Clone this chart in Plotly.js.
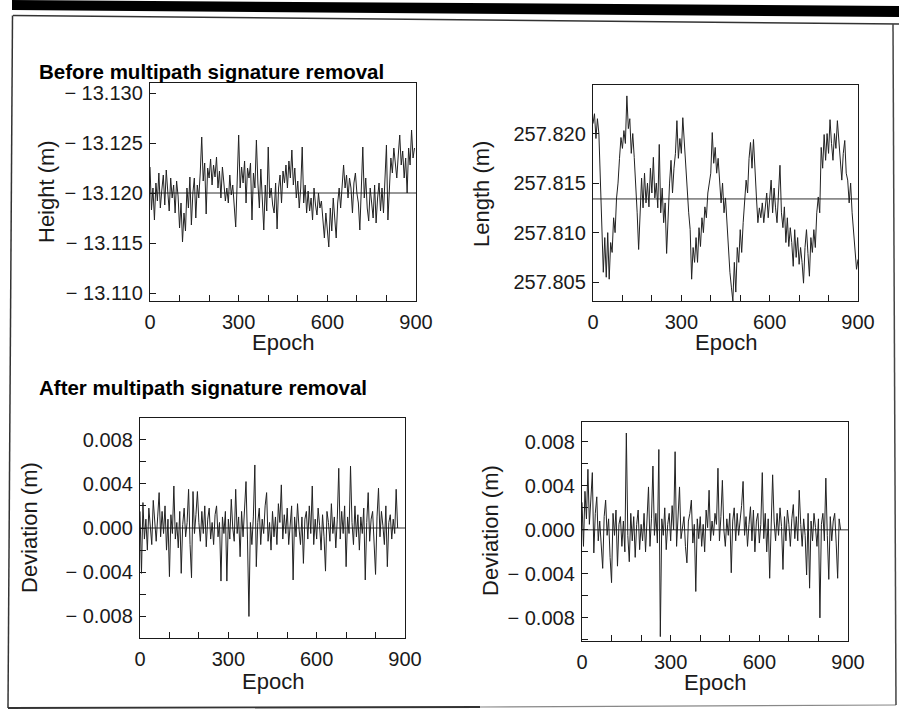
<!DOCTYPE html>
<html>
<head>
<meta charset="utf-8">
<script src="https://cdn.plot.ly/plotly-3.0.1.min.js"></script>
<style>
  html, body { margin: 0; padding: 0; background: #fff; }
  #chart { width: 899px; height: 711px; }
</style>
</head>
<body>
<div id="chart"></div>
<script>
// ---------------- DATA ----------------
const EPOCH_STEP = 5;                 // sampling step of the series below (epochs)
const epochTickVals = [0, 300, 600, 900];
const epochTickText = ["0", "300", "600", "900"];

// Top-left: height before multipath removal (m), epochs 0..895
const heightValues = [
-13.1226,-13.1183,-13.1205,-13.1173,-13.1210,-13.1192,-13.1220,-13.1185,-13.1203,-13.1218,
-13.1188,-13.1223,-13.1202,-13.1182,-13.1215,-13.1195,-13.1208,-13.1180,-13.1212,-13.1197,
-13.1165,-13.1190,-13.1151,-13.1180,-13.1162,-13.1205,-13.1185,-13.1216,-13.1168,-13.1200,
-13.1215,-13.1175,-13.1208,-13.1195,-13.1220,-13.1256,-13.1212,-13.1230,-13.1179,-13.1225,
-13.1215,-13.1234,-13.1208,-13.1228,-13.1216,-13.1236,-13.1205,-13.1222,-13.1195,-13.1226,
-13.1210,-13.1192,-13.1205,-13.1190,-13.1218,-13.1198,-13.1208,-13.1188,-13.1166,-13.1212,
-13.1258,-13.1205,-13.1226,-13.1210,-13.1232,-13.1190,-13.1225,-13.1215,-13.1230,-13.1173,
-13.1220,-13.1205,-13.1253,-13.1210,-13.1185,-13.1224,-13.1195,-13.1163,-13.1208,-13.1182,
-13.1246,-13.1195,-13.1205,-13.1188,-13.1180,-13.1210,-13.1164,-13.1205,-13.1218,-13.1190,
-13.1222,-13.1210,-13.1228,-13.1205,-13.1232,-13.1215,-13.1243,-13.1208,-13.1225,-13.1195,
-13.1212,-13.1185,-13.1205,-13.1246,-13.1190,-13.1208,-13.1180,-13.1202,-13.1182,-13.1195,
-13.1173,-13.1205,-13.1188,-13.1178,-13.1200,-13.1185,-13.1192,-13.1170,-13.1155,-13.1180,
-13.1165,-13.1146,-13.1185,-13.1162,-13.1195,-13.1175,-13.1155,-13.1190,-13.1205,-13.1185,
-13.1212,-13.1228,-13.1205,-13.1218,-13.1195,-13.1215,-13.1205,-13.1180,-13.1210,-13.1220,
-13.1200,-13.1190,-13.1163,-13.1210,-13.1246,-13.1195,-13.1215,-13.1185,-13.1172,-13.1205,
-13.1185,-13.1175,-13.1208,-13.1170,-13.1195,-13.1210,-13.1182,-13.1205,-13.1180,-13.1215,
-13.1248,-13.1173,-13.1213,-13.1235,-13.1220,-13.1245,-13.1230,-13.1215,-13.1238,-13.1258,
-13.1228,-13.1242,-13.1215,-13.1235,-13.1200,-13.1245,-13.1228,-13.1263,-13.1235,-13.1245
];
const heightMean = -13.1200;
const heightTickVals = [-13.130, -13.125, -13.120, -13.115, -13.110];
const heightTickText = ["\u2212 13.130", "\u2212 13.125", "\u2212 13.120", "\u2212 13.115", "\u2212 13.110"];

// Top-right: baseline length before multipath removal (m), epochs 0..900
const lengthValues = [
257.8210,257.8220,257.8195,257.8215,257.8200,257.8150,257.8110,257.8060,257.8095,257.8055,
257.8100,257.8053,257.8090,257.8080,257.8115,257.8100,257.8135,257.8150,257.8175,257.8196,
257.8185,257.8203,257.8190,257.8238,257.8205,257.8215,257.8180,257.8200,257.8176,257.8150,
257.8120,257.8083,257.8130,257.8155,257.8125,257.8160,257.8130,257.8150,257.8126,257.8165,
257.8140,257.8176,257.8135,257.8150,257.8125,257.8189,257.8120,257.8145,257.8110,257.8130,
257.8079,257.8125,257.8150,257.8173,257.8140,257.8165,257.8180,257.8213,257.8175,257.8195,
257.8180,257.8216,257.8190,257.8170,257.8145,257.8120,257.8103,257.8053,257.8085,257.8070,
257.8095,257.8070,257.8105,257.8086,257.8115,257.8100,257.8126,257.8115,257.8140,257.8153,
257.8160,257.8201,257.8170,257.8186,257.8160,257.8175,257.8155,257.8130,257.8150,257.8120,
257.8135,257.8105,257.8080,257.8060,257.8045,257.8031,257.8070,257.8040,257.8085,257.8070,
257.8103,257.8080,257.8110,257.8136,257.8153,257.8140,257.8175,257.8191,257.8165,257.8194,
257.8160,257.8136,257.8110,257.8125,257.8115,257.8130,257.8110,257.8125,257.8140,257.8115,
257.8135,257.8153,257.8120,257.8145,257.8125,257.8110,257.8140,257.8168,257.8120,257.8105,
257.8126,257.8090,257.8115,257.8086,257.8105,257.8090,257.8066,257.8103,257.8075,257.8095,
257.8068,257.8085,257.8070,257.8049,257.8085,257.8103,257.8079,257.8056,257.8095,257.8080,
257.8103,257.8085,257.8120,257.8136,257.8120,257.8186,257.8165,257.8199,257.8173,257.8200,
257.8180,257.8214,257.8190,257.8173,257.8200,257.8185,257.8213,257.8190,257.8170,257.8153,
257.8180,257.8193,257.8160,257.8153,257.8130,257.8150,257.8120,257.8103,257.8080,257.8063,257.8073
];
const lengthMean = 257.8134;
const lengthTickVals = [257.805, 257.810, 257.815, 257.820];
const lengthTickText = ["257.805", "257.810", "257.815", "257.820"];

// Bottom-left: height deviation after removal (m), epochs 0..875
const heightDeviation = [
0.0015,-0.0041,0.0023,-0.0010,0.0008,-0.0020,0.0018,0.0002,-0.0015,0.0025,
0.0005,-0.0012,0.0010,0.0032,-0.0008,0.0015,-0.0005,0.0020,-0.0020,0.0008,
-0.0044,0.0012,-0.0005,0.0038,-0.0010,0.0005,-0.0018,0.0015,-0.0041,0.0003,
0.0018,-0.0008,0.0005,0.0035,-0.0015,-0.0045,0.0033,-0.0005,0.0012,0.0033,
0.0005,-0.0012,0.0015,-0.0005,0.0020,-0.0017,0.0008,0.0018,-0.0010,0.0005,
-0.0015,0.0012,0.0020,-0.0008,0.0005,-0.0048,0.0010,-0.0005,0.0015,-0.0048,
0.0008,-0.0010,0.0026,0.0000,-0.0012,0.0035,-0.0005,0.0010,-0.0026,0.0015,
-0.0008,0.0020,0.0042,-0.0010,-0.0080,0.0005,-0.0015,0.0010,0.0057,-0.0035,
0.0005,0.0018,-0.0015,0.0008,-0.0005,0.0020,0.0032,-0.0012,0.0005,-0.0020,
0.0015,-0.0008,0.0010,-0.0015,0.0022,0.0005,0.0039,-0.0010,0.0012,-0.0005,
0.0018,-0.0015,0.0005,0.0020,-0.0047,0.0010,-0.0008,0.0022,0.0000,-0.0015,
0.0010,-0.0032,0.0008,0.0015,-0.0010,0.0020,-0.0005,0.0038,-0.0015,0.0008,
-0.0010,0.0018,0.0002,-0.0020,0.0012,-0.0008,-0.0039,0.0015,0.0005,-0.0012,
0.0022,-0.0005,0.0010,-0.0018,0.0008,0.0054,-0.0010,0.0015,-0.0005,0.0020,
-0.0035,0.0010,-0.0005,0.0056,0.0005,-0.0015,0.0020,-0.0008,0.0012,-0.0020,
0.0010,-0.0005,0.0018,-0.0047,0.0005,0.0032,-0.0012,0.0008,0.0015,-0.0010,
-0.0042,0.0010,0.0036,-0.0008,0.0015,0.0002,-0.0015,0.0020,-0.0035,0.0005,
0.0012,-0.0010,0.0008,-0.0005,0.0035,0.0000
];

// Bottom-right: length deviation after removal (m), epochs 0..875
const lengthDeviation = [
0.0025,-0.0015,0.0035,0.0010,0.0055,0.0005,0.0028,0.0052,-0.0021,0.0015,
0.0030,-0.0010,0.0008,-0.0020,-0.0035,0.0012,0.0027,-0.0005,0.0010,-0.0025,
-0.0048,0.0015,-0.0005,0.0018,-0.0033,0.0005,0.0012,-0.0015,0.0008,-0.0020,
0.0088,-0.0005,-0.0029,0.0015,-0.0010,0.0012,-0.0025,0.0005,0.0018,-0.0018,
0.0005,-0.0010,0.0015,-0.0020,0.0008,0.0039,-0.0015,0.0010,0.0058,-0.0005,
0.0015,-0.0012,0.0073,-0.0097,0.0010,-0.0005,0.0020,-0.0018,0.0005,0.0015,
-0.0010,0.0022,0.0000,0.0071,-0.0015,0.0010,0.0039,-0.0008,0.0005,0.0012,
-0.0015,-0.0030,0.0008,0.0015,0.0027,-0.0012,0.0005,-0.0056,0.0010,-0.0008,
0.0012,-0.0015,0.0005,-0.0020,0.0018,0.0002,0.0036,-0.0010,0.0008,-0.0005,
0.0015,0.0005,0.0056,-0.0010,0.0012,0.0045,0.0000,-0.0015,0.0010,-0.0005,
0.0015,-0.0039,0.0008,0.0020,-0.0010,0.0015,-0.0005,0.0008,0.0022,0.0044,
-0.0005,0.0012,-0.0015,0.0005,0.0021,-0.0010,0.0018,-0.0020,0.0008,0.0015,
-0.0012,0.0005,0.0052,-0.0008,0.0015,-0.0020,0.0010,-0.0044,0.0005,0.0050,
0.0008,-0.0010,0.0015,-0.0005,0.0020,0.0003,-0.0036,0.0012,-0.0010,0.0018,
0.0005,-0.0015,0.0010,0.0023,-0.0008,0.0012,-0.0010,0.0036,0.0005,-0.0015,
0.0010,-0.0005,-0.0041,0.0015,-0.0053,0.0008,-0.0010,0.0015,0.0002,-0.0015,
0.0010,-0.0080,0.0005,0.0015,-0.0010,0.0047,-0.0005,-0.0045,0.0012,-0.0010,
0.0008,0.0015,-0.0012,-0.0044,0.0010,0.0000
];
const deviationMean = 0;
const devTickVals = [-0.008, -0.004, 0, 0.004, 0.008];
const devTickText = ["\u2212 0.008", "\u2212 0.004", "0.000", "0.004", "0.008"];

// ---------------- LAYOUT ----------------
const W = 899, H = 711;
const fx = p => p / W;
const fy = p => 1 - p / H;
const FONT = "'Liberation Sans', Arial, Helvetica, sans-serif";
const INK = "#1a1a1a";
const TICK_SIZE = 20;
const LABEL_SIZE = 22;

function xAxis(x0, x1, anchor) {
  return {
    domain: [fx(x0), fx(x1)], anchor: anchor, range: [0, 900],
    tickmode: "array", tickvals: epochTickVals, ticktext: epochTickText,
    ticks: "inside", ticklen: 6, tickwidth: 1, tickcolor: INK,
    minor: { tickmode: "linear", tick0: 0, dtick: 100, ticks: "inside", ticklen: 6, tickwidth: 1, tickcolor: INK },
    showline: true, mirror: true, linecolor: INK, linewidth: 1.2,
    showgrid: false, zeroline: false,
    tickfont: { family: FONT, size: TICK_SIZE, color: INK },
    ticklabelstandoff: 3
  };
}
function yAxis(y0, y1, anchor, range, tv, tt, minorDtick) {
  const a = {
    domain: [fy(y1), fy(y0)], anchor: anchor, range: range,
    tickmode: "array", tickvals: tv, ticktext: tt,
    ticks: "inside", ticklen: 6, tickwidth: 1, tickcolor: INK,
    showline: true, mirror: true, linecolor: INK, linewidth: 1.2,
    showgrid: false, zeroline: false,
    tickfont: { family: FONT, size: TICK_SIZE, color: INK },
    ticklabelstandoff: 2
  };
  if (minorDtick) a.minor = { tickmode: "linear", tick0: 0, dtick: minorDtick, ticks: "inside", ticklen: 6, tickwidth: 1, tickcolor: INK };
  return a;
}

const lineStyle = { color: "#222", width: 1.0 };
const traces = [
  { y: heightValues, x0: 0, dx: EPOCH_STEP, xaxis: "x", yaxis: "y", mode: "lines", line: lineStyle, hoverinfo: "skip" },
  { y: lengthValues, x0: 0, dx: EPOCH_STEP, xaxis: "x2", yaxis: "y2", mode: "lines", line: lineStyle, hoverinfo: "skip" },
  { y: heightDeviation, x0: 0, dx: EPOCH_STEP, xaxis: "x3", yaxis: "y3", mode: "lines", line: lineStyle, hoverinfo: "skip" },
  { y: lengthDeviation, x0: 0, dx: EPOCH_STEP, xaxis: "x4", yaxis: "y4", mode: "lines", line: lineStyle, hoverinfo: "skip" }
];

function meanLine(xr, yr, v) {
  return { type: "line", xref: xr, yref: yr, x0: 0, x1: 900, y0: v, y1: v, line: { color: INK, width: 0.9 }, layer: "above" };
}
function pline(x0, y0, x1, y1, color, width) {
  return { type: "line", xref: "paper", yref: "paper", x0: fx(x0), y0: fy(y0), x1: fx(x1), y1: fy(y1), line: { color: color, width: width } };
}

const shapes = [
  meanLine("x", "y", heightMean),
  meanLine("x2", "y2", lengthMean),
  meanLine("x3", "y3", deviationMean),
  meanLine("x4", "y4", deviationMean),
  // page frame (scanned figure box)
  { type: "path", xref: "paper", yref: "paper",
    path: `M ${fx(12)} ${fy(0)} L ${fx(899)} ${fy(6)} L ${fx(899)} ${fy(17)} L ${fx(12)} ${fy(10)} Z`,
    fillcolor: "#000", line: { width: 0 } },
  pline(13, 15.5, 899, 24, "#333", 1.5),
  pline(12.5, 15.5, 8, 708, "#333", 1.5),
  pline(8, 708, 480, 707, "#333", 1.8),
  pline(480, 707, 896, 705, "#888", 1.2),
  pline(893, 24, 896, 705, "#444", 1.5)
];

function ann(text, x, y, opts) {
  return Object.assign({ text: text, xref: "paper", yref: "paper", x: fx(x), y: fy(y),
    showarrow: false, font: { family: FONT, size: LABEL_SIZE, color: INK } }, opts || {});
}

const HEAD_FONT = { family: FONT, size: 20.5, color: "#000" };
const annotations = [
  ann("<b>Before multipath signature removal</b>", 37, 72, { xanchor: "left", yanchor: "middle", font: HEAD_FONT }),
  ann("<b>After multipath signature removal</b>", 37, 388, { xanchor: "left", yanchor: "middle", font: HEAD_FONT }),
  ann("Height (m)", 46, 192, { textangle: -90, xanchor: "center", yanchor: "middle" }),
  ann("Length (m)", 482, 194, { textangle: -90, xanchor: "center", yanchor: "middle" }),
  ann("Deviation (m)", 29, 528, { textangle: -90, xanchor: "center", yanchor: "middle" }),
  ann("Deviation (m)", 490, 531, { textangle: -90, xanchor: "center", yanchor: "middle" }),
  ann("Epoch", 283, 343, { xanchor: "center", yanchor: "middle" }),
  ann("Epoch", 726, 343, { xanchor: "center", yanchor: "middle" }),
  ann("Epoch", 273, 681, { xanchor: "center", yanchor: "middle" }),
  ann("Epoch", 715, 682, { xanchor: "center", yanchor: "middle" })
];

const layout = {
  width: W, height: H,
  margin: { l: 0, r: 0, t: 0, b: 0, pad: 0 },
  paper_bgcolor: "#fff", plot_bgcolor: "#fff",
  showlegend: false,
  font: { family: FONT, color: INK },
  xaxis: xAxis(150, 416, "y"),
  yaxis: yAxis(83, 301, "x", [-13.1092, -13.131], heightTickVals, heightTickText, null),
  xaxis2: xAxis(593, 858, "y2"),
  yaxis2: yAxis(85, 301, "x2", [257.8031, 257.8249], lengthTickVals, lengthTickText, null),
  xaxis3: xAxis(140, 405, "y3"),
  yaxis3: yAxis(418, 638, "x3", [-0.00995, 0.00995], devTickVals, devTickText, 0.002),
  xaxis4: xAxis(582, 848, "y4"),
  yaxis4: yAxis(422, 641, "x4", [-0.0101, 0.0098], devTickVals, devTickText, 0.002),
  shapes: shapes,
  annotations: annotations
};

Plotly.newPlot("chart", traces, layout, { staticPlot: true, displayModeBar: false });
</script>
</body>
</html>
